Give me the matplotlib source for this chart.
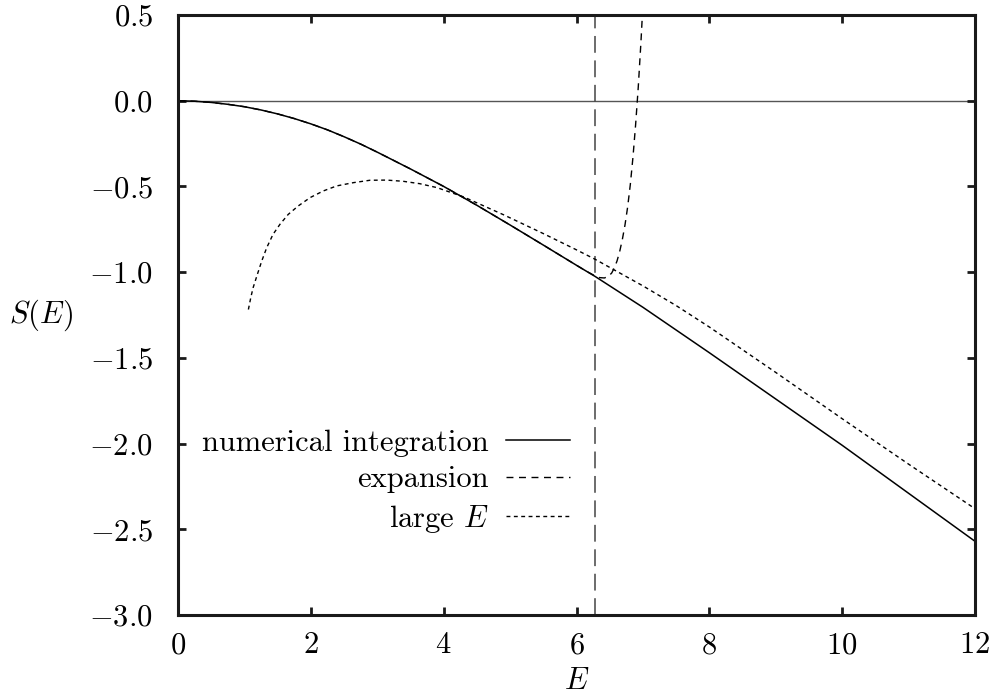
import matplotlib
matplotlib.use("Agg")
import matplotlib.pyplot as plt

plt.rcParams['font.family'] = ['cmr10', 'DejaVu Serif']
plt.rcParams['mathtext.fontset'] = 'cm'
plt.rcParams['axes.unicode_minus'] = False

# numerical integration
E_num = [0.0, 0.25, 0.5, 0.75, 1.0, 1.25, 1.5, 1.75, 2.0, 2.25, 2.5, 2.75, 3.0, 3.5, 4.0, 4.5, 5.0, 5.5, 6.0, 6.28, 7.0, 8.0, 9.0, 10.0, 11.0, 12.0]
S_num = [0.0, -0.003, -0.010, -0.021, -0.035, -0.054, -0.077, -0.104, -0.135, -0.170, -0.210, -0.253, -0.300, -0.398, -0.500, -0.610, -0.725, -0.842, -0.960, -1.025, -1.205, -1.470, -1.740, -2.010, -2.290, -2.570]

# expansion
E_exp = [0.0, 0.25, 0.5, 0.75, 1.0, 1.25, 1.5, 1.75, 2.0, 2.25, 2.5, 2.75, 3.0, 3.5, 4.0, 4.5, 5.0, 5.5, 6.0, 6.15, 6.28, 6.35, 6.42, 6.48, 6.53, 6.57, 6.61, 6.65, 6.69, 6.73, 6.77, 6.81, 6.85, 6.89, 6.93, 6.97, 7.0]
S_exp = [0.0, -0.003, -0.010, -0.021, -0.035, -0.054, -0.077, -0.104, -0.135, -0.170, -0.210, -0.253, -0.300, -0.398, -0.500, -0.610, -0.725, -0.842, -0.960, -0.995, -1.022, -1.032, -1.034, -1.025, -1.005, -0.975, -0.935, -0.88, -0.81, -0.725, -0.62, -0.49, -0.33, -0.14, 0.08, 0.34, 0.56]

# large E
E_big = [1.06, 1.095, 1.13, 1.195, 1.26, 1.335, 1.43, 1.535, 1.66, 1.81, 1.99, 2.19, 2.39, 2.64, 2.89, 3.14, 3.39, 3.64, 3.90, 4.30, 4.9, 5.5, 6.0, 6.28, 7.0, 7.5, 8.0, 9.0, 10.0, 11.0, 12.0]
S_big = [-1.218, -1.150, -1.092, -1.013, -0.936, -0.858, -0.780, -0.721, -0.663, -0.614, -0.565, -0.526, -0.497, -0.478, -0.464, -0.463, -0.470, -0.484, -0.507, -0.561, -0.665, -0.775, -0.870, -0.925, -1.080, -1.195, -1.320, -1.585, -1.855, -2.120, -2.380]

E_vline = 6.28

xticks = [0, 2, 4, 6, 8, 10, 12]
yticks = [0.5, 0.0, -0.5, -1.0, -1.5, -2.0, -2.5, -3.0]

fig = plt.figure(figsize=(9.91, 6.98), dpi=100)
ax = fig.add_axes([178/991, 1 - 615/698, (975 - 178)/991, 600/698])

ax.axhline(0.0, color='#555555', lw=1.0, zorder=1)
ax.axvline(E_vline, color='#444444', lw=1.1, dashes=(11, 5), zorder=1)

ln1, = ax.plot(E_num, S_num, color='black', lw=1.1, label='numerical integration')
ln2, = ax.plot(E_exp, S_exp, color='black', lw=1.0, dashes=(5, 4), label='expansion')
ln3, = ax.plot(E_big, S_big, color='black', lw=1.0, dashes=(2.8, 2.5), label='large $E$')

ax.set_xlim(0, 12)
ax.set_ylim(-3.0, 0.5)
ax.set_xticks(xticks)
ax.set_xticklabels([f'${t}$' for t in xticks])
ax.set_yticks(yticks)
ax.set_yticklabels([f'${t:.1f}$' for t in yticks])

for s in ax.spines.values():
    s.set_linewidth(2.2)
    s.set_color('#1a1a1a')

ax.tick_params(axis='both', which='major', direction='in', length=6, width=2,
               top=True, right=True, labelsize=22, color='#1a1a1a')
ax.tick_params(axis='x', pad=12)
ax.tick_params(axis='y', pad=18)

ax.set_xlabel('$E$', fontsize=22, labelpad=6)
ax.set_ylabel('$S(E)$', fontsize=22, rotation=0, ha='center', va='center')
ax.yaxis.set_label_coords(-0.172, 0.5)

leg = ax.legend(handles=[ln1, ln2, ln3], loc='center right',
                bbox_to_anchor=((570 - 178) / 797, (615 - 482) / 600),
                frameon=False, markerfirst=False, fontsize=22, handlelength=2.1,
                handletextpad=0.55, labelspacing=0.3, borderpad=0, borderaxespad=0)
leg._legend_box.align = 'right'

fig.savefig('out.png', dpi=100)
